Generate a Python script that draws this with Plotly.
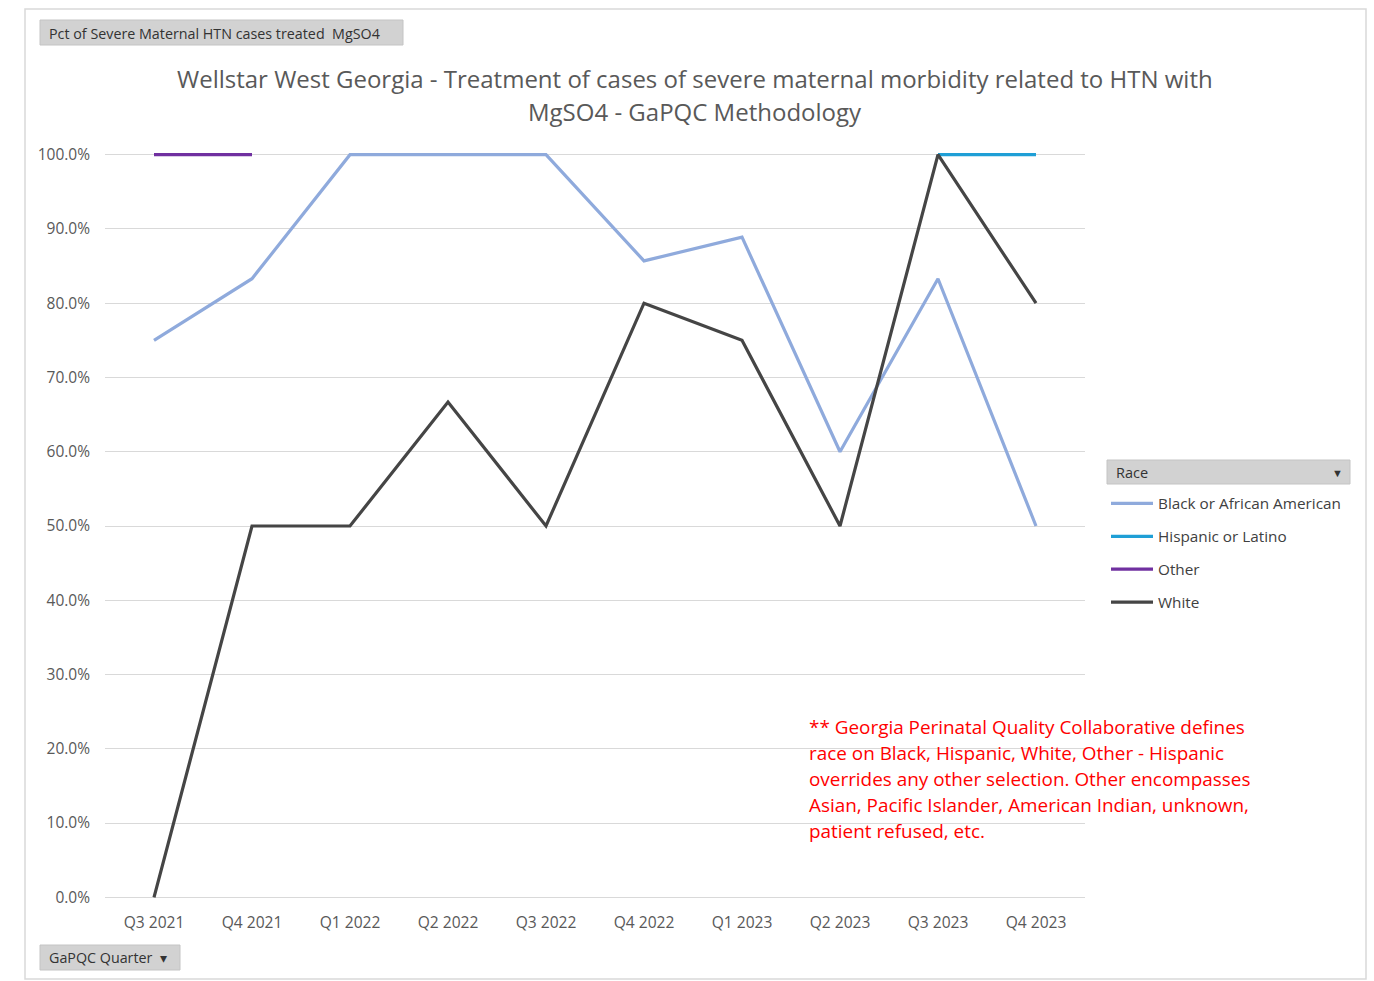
import plotly.graph_objects as go

quarters = ["Q3 2021", "Q4 2021", "Q1 2022", "Q2 2022", "Q3 2022",
            "Q4 2022", "Q1 2023", "Q2 2023", "Q3 2023", "Q4 2023"]
black_aa = [75.0, 83.3, 100.0, 100.0, 100.0, 85.7, 88.9, 60.0, 83.3, 50.0]
hispanic = [None, None, None, None, None, None, None, None, 100.0, 100.0]
other = [100.0, 100.0, None, None, None, None, None, None, None, None]
white = [0.0, 50.0, 50.0, 66.7, 50.0, 80.0, 75.0, 50.0, 100.0, 80.0]
y_ticks = [0, 10, 20, 30, 40, 50, 60, 70, 80, 90, 100]
y_tick_labels = [f"{v:.1f}%" for v in y_ticks]

series = [
    ("Black or African American", black_aa, "#8FAADC"),
    ("Hispanic or Latino", hispanic, "#1F9FD6"),
    ("Other", other, "#7030A0"),
    ("White", white, "#454545"),
]

W, H = 1374, 981
ML, MR, MT, MB = 105, 289, 151, 80
L, R, T, B = ML, W - MR, MT, H - MB


def px(x):
    return (x - L) / (R - L)


def py(y):
    return (B - y) / (B - T)


fig = go.Figure()
for i, (name, vals, col) in enumerate(series):
    fig.add_trace(go.Scatter(
        x=quarters, y=vals, name=name, mode="lines",
        line=dict(color=col, width=3.2),
        legendgroup=f"g{i}", connectgaps=False,
    ))

FONT = "Open Sans"
shapes = []
annotations = []

# outer chart border
shapes.append(dict(type="rect", xref="paper", yref="paper",
                   x0=px(25), x1=px(1366), y0=py(979), y1=py(9),
                   line=dict(color="#D9D9D9", width=1.5), fillcolor="rgba(0,0,0,0)", layer="below"))

# field buttons
def button(x0, y0, x1, y1):
    shapes.append(dict(type="rect", xref="paper", yref="paper",
                       x0=px(x0), x1=px(x1), y0=py(y1), y1=py(y0),
                       line=dict(color="#C4C4C4", width=1), fillcolor="#D2D2D2", layer="below"))

button(40, 20, 403, 45)
annotations.append(dict(text="Pct of Severe Maternal HTN cases treated  MgSO4",
                        xref="paper", yref="paper", x=px(47), y=py(33),
                        xanchor="left", yanchor="middle", showarrow=False,
                        font=dict(family=FONT, size=14.3, color="#333333")))
button(40, 945, 180, 970)
annotations.append(dict(text="GaPQC Quarter  ▾",
                        xref="paper", yref="paper", x=px(47), y=py(957),
                        xanchor="left", yanchor="middle", showarrow=False,
                        font=dict(family=FONT, size=14.3, color="#333333")))
button(1107, 460, 1350, 484)
annotations.append(dict(text="Race",
                        xref="paper", yref="paper", x=px(1114), y=py(472),
                        xanchor="left", yanchor="middle", showarrow=False,
                        font=dict(family=FONT, size=14.5, color="#333333")))
annotations.append(dict(text="▼",
                        xref="paper", yref="paper", x=px(1337), y=py(472),
                        xanchor="center", yanchor="middle", showarrow=False,
                        font=dict(family=FONT, size=11, color="#333333")))

# title
title_lines = ["Wellstar West Georgia - Treatment of cases of severe maternal morbidity related to HTN with",
               "MgSO4 - GaPQC Methodology"]
for k, t in enumerate(title_lines):
    annotations.append(dict(text=t, xref="paper", yref="paper",
                            x=px(695), y=py(79 + 33 * k), xanchor="center", yanchor="middle",
                            showarrow=False, font=dict(family=FONT, size=24, color="#595959")))

# note
note_lines = ["** Georgia Perinatal Quality Collaborative defines",
              "race on Black, Hispanic, White, Other - Hispanic",
              "overrides any other selection. Other encompasses",
              "Asian, Pacific Islander, American Indian, unknown,",
              "patient refused, etc."]
for k, t in enumerate(note_lines):
    annotations.append(dict(text=t, xref="paper", yref="paper",
                            x=px(807), y=py(727 + 26 * k), xanchor="left", yanchor="middle",
                            showarrow=False, font=dict(family=FONT, size=18.9, color="#FF0000")))

fig.update_layout(
    width=W, height=H,
    margin=dict(l=ML, r=MR, t=MT, b=MB, autoexpand=False),
    paper_bgcolor="white", plot_bgcolor="white",
    showlegend=True,
    legend=dict(x=px(1106), y=py(487), xanchor="left", yanchor="top",
                font=dict(family=FONT, size=15.3, color="#404040"),
                tracegroupgap=10, itemwidth=42, bgcolor="rgba(0,0,0,0)",
                traceorder="grouped"),
    xaxis=dict(type="category", categoryorder="array", categoryarray=quarters,
               range=[-0.5, 9.5], showgrid=False, zeroline=False, showline=False,
               ticks="", tickfont=dict(family=FONT, size=15.6, color="#595959"),
               ticklabelstandoff=10),
    yaxis=dict(range=[-0.5, 100.5], tickvals=y_ticks, ticktext=y_tick_labels,
               showgrid=True, gridcolor="#D9D9D9", gridwidth=1, zeroline=False,
               showline=False, ticks="",
               tickfont=dict(family=FONT, size=15.5, color="#595959"),
               ticklabelstandoff=14),
    shapes=shapes, annotations=annotations,
    hovermode=False,
)

fig.write_html("out.html")
